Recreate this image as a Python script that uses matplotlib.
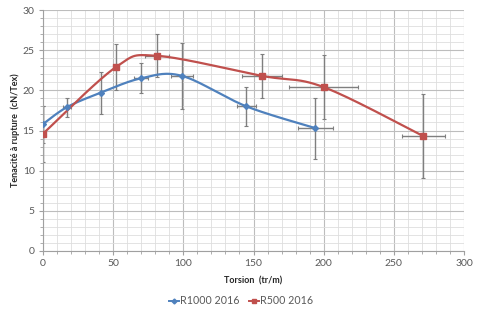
import numpy as np
import matplotlib
matplotlib.use("Agg")
import matplotlib.pyplot as plt
from matplotlib.ticker import MultipleLocator

# Data
r1000_x = [0, 17, 41, 70, 99, 145, 194]
r1000_y = [15.8, 17.9, 19.7, 21.5, 21.8, 18.0, 15.3]
r1000_yerr = [2.3, 1.2, 2.6, 1.85, 4.1, 2.4, 3.8]
r1000_xerr = [0, 3, 0, 5, 8, 7, 12.6]

r500_x = [0, 52, 81, 156, 200, 271]
r500_y = [14.6, 22.9, 24.3, 21.8, 20.4, 14.3]
r500_yerr = [3.5, 2.85, 2.7, 2.75, 4.0, 5.25]
r500_xerr = [0, 0, 8.5, 14, 24.6, 15.3]

labels = ["R1000 2016", "R500 2016"]
x_title = "Torsion  (tr/m)"
y_title = "Tenacité à rupture  (cN/Tex)"

blue = "#4F81BD"
red = "#C0504D"


def smooth(xs, ys, n=30):
    xs = np.asarray(xs, float)
    ys = np.asarray(ys, float)
    P = np.column_stack([xs, ys])
    P = np.vstack([P[0], P, P[-1]])
    out = []
    for i in range(1, len(P) - 2):
        p0, p1, p2, p3 = P[i - 1], P[i], P[i + 1], P[i + 2]
        c1 = p1 + (p2 - p0) / 6.0
        c2 = p2 - (p3 - p1) / 6.0
        t = np.linspace(0, 1, n)[:, None]
        seg = ((1 - t) ** 3) * p1 + 3 * ((1 - t) ** 2) * t * c1 + 3 * (1 - t) * t ** 2 * c2 + t ** 3 * p2
        out.append(seg if i == 1 else seg[1:])
    s = np.vstack(out)
    return s[:, 0], s[:, 1]


plt.rcParams['font.family'] = ['Lato', 'DejaVu Sans']

fig = plt.figure(figsize=(4.8, 3.14), dpi=100)
ax = fig.add_axes([43 / 480, 1 - 251 / 314, (464 - 43) / 480, (251 - 10) / 314])

ax.set_xlim(0, 300)
ax.set_ylim(0, 30)
ax.xaxis.set_major_locator(MultipleLocator(50))
ax.xaxis.set_minor_locator(MultipleLocator(10))
ax.yaxis.set_major_locator(MultipleLocator(5))
ax.yaxis.set_minor_locator(MultipleLocator(1))
ax.grid(which='major', color='#BDBDBD', linewidth=0.8)
ax.grid(which='minor', color='#DEDEDE', linewidth=0.6)
ax.set_axisbelow(True)

for s in ['top', 'right']:
    ax.spines[s].set_visible(False)
for s in ['left', 'bottom']:
    ax.spines[s].set_color('#A0A0A0')
    ax.spines[s].set_linewidth(0.8)

ax.tick_params(which='major', length=3, color='#A0A0A0', labelsize=7.5, labelcolor='#595959', pad=3)
ax.tick_params(which='minor', length=2, color='#A0A0A0')

err_kw = dict(fmt='none', ecolor='#7F7F7F', elinewidth=1.0, capsize=1.5, capthick=0.8, zorder=2)
ax.errorbar(r1000_x, r1000_y, yerr=r1000_yerr, xerr=r1000_xerr, **err_kw)
ax.errorbar(r500_x, r500_y, yerr=r500_yerr, xerr=r500_xerr, **err_kw)

sx, sy = smooth(r1000_x, r1000_y)
ax.plot(sx, sy, color=blue, lw=1.6, zorder=3)
ax.plot(r1000_x, r1000_y, ls='none', marker='D', ms=3, color=blue, zorder=4)
sx, sy = smooth(r500_x, r500_y)
ax.plot(sx, sy, color=red, lw=1.6, zorder=3)
ax.plot(r500_x, r500_y, ls='none', marker='s', ms=4.5, color=red, zorder=4)

ax.set_xlabel(x_title, fontsize=6.5, fontweight='bold', color='#262626', va='center')
ax.xaxis.set_label_coords(0.5, -0.125)
ax.set_ylabel(y_title, fontsize=6.5, fontweight='bold', color='#262626', va='center')
ax.yaxis.set_label_coords(-0.066, 0.5)

h1, = ax.plot([], [], color=blue, lw=1.4, marker='D', ms=2.5)
h2, = ax.plot([], [], color=red, lw=1.4, marker='s', ms=3.5)
fig.legend([h1, h2], labels, loc='center', bbox_to_anchor=(0.502, 0.042), ncol=2,
           frameon=False, fontsize=7.7, handlelength=0.95, handletextpad=0.1,
           columnspacing=0.9, labelcolor='#595959')

fig.savefig("out.png", dpi=100)
